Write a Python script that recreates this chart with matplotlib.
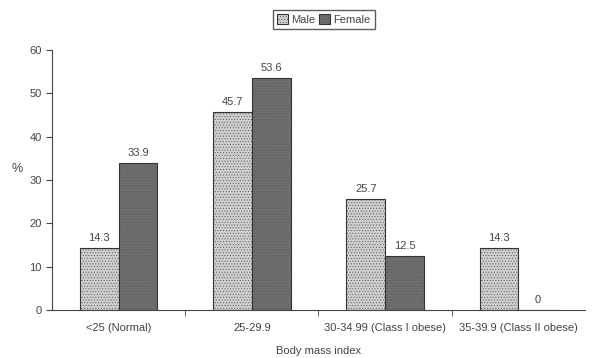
import numpy as np
import matplotlib
matplotlib.use('Agg')
import matplotlib.pyplot as plt

plt.rcParams['font.family'] = ['Liberation Sans', 'DejaVu Sans']
plt.rcParams['hatch.linewidth'] = 0.4

# data
categories = ['<25 (Normal)', '25-29.9', '30-34.99 (Class I obese)', '35-39.9 (Class II obese)']
male = [14.3, 45.7, 25.7, 14.3]
female = [33.9, 53.6, 12.5, 0]

fig = plt.figure(figsize=(5.92, 3.58), dpi=100)
ax = fig.add_axes([0.088, 0.134, 0.90, 0.726])

x = np.arange(len(categories))
w = 0.29
b1 = ax.bar(x - w / 2, male, w, color='#cfcfcf', edgecolor='#333333', linewidth=0.8,
            hatch='......', label='Male')
b2 = ax.bar(x + w / 2, female, w, color='#6e6e6e', edgecolor='#333333', linewidth=0.8,
            hatch='......', label='Female')
for bar in list(b1) + list(b2):
    bar._hatch_color = (0.35, 0.35, 0.35, 1)

for bars in (b1, b2):
    for r in bars:
        h = r.get_height()
        ax.text(r.get_x() + r.get_width() / 2, h + 1.2, f'{h:g}', ha='center', va='bottom',
                fontsize=8, color='#444444')

ax.set_xlim(-0.5, len(categories) - 0.5)
ax.set_ylim(0, 60)
ax.set_yticks(range(0, 61, 10))
ax.set_xticks(x)
ax.set_xticklabels(categories, fontsize=8, color='#444444')
ax.set_xticks(x[:-1] + 0.5, minor=True)
ax.tick_params(axis='x', which='major', length=0, pad=9)
ax.tick_params(axis='x', which='minor', length=4, direction='out', color='#444444')
ax.tick_params(axis='y', labelsize=8, labelcolor='#444444', length=4, color='#444444')

for s in ['top', 'right']:
    ax.spines[s].set_visible(False)
for s in ['left', 'bottom']:
    ax.spines[s].set_color('#444444')

ax.set_ylabel('%', fontsize=9, color='#444444', rotation=0)
ax.yaxis.set_label_coords(-0.065, 0.52)
ax.set_xlabel('Body mass index', fontsize=8, color='#444444', labelpad=10)

leg = ax.legend(loc='upper center', bbox_to_anchor=(0.51, 1.175), ncol=2, fontsize=8,
                frameon=True, fancybox=False, edgecolor='#333333', handlelength=1.0,
                handleheight=1.0, handletextpad=0.3, columnspacing=0.3, borderpad=0.35)
for t in leg.get_texts():
    t.set_color('#444444')

fig.savefig('out.png', dpi=100, facecolor='white')
